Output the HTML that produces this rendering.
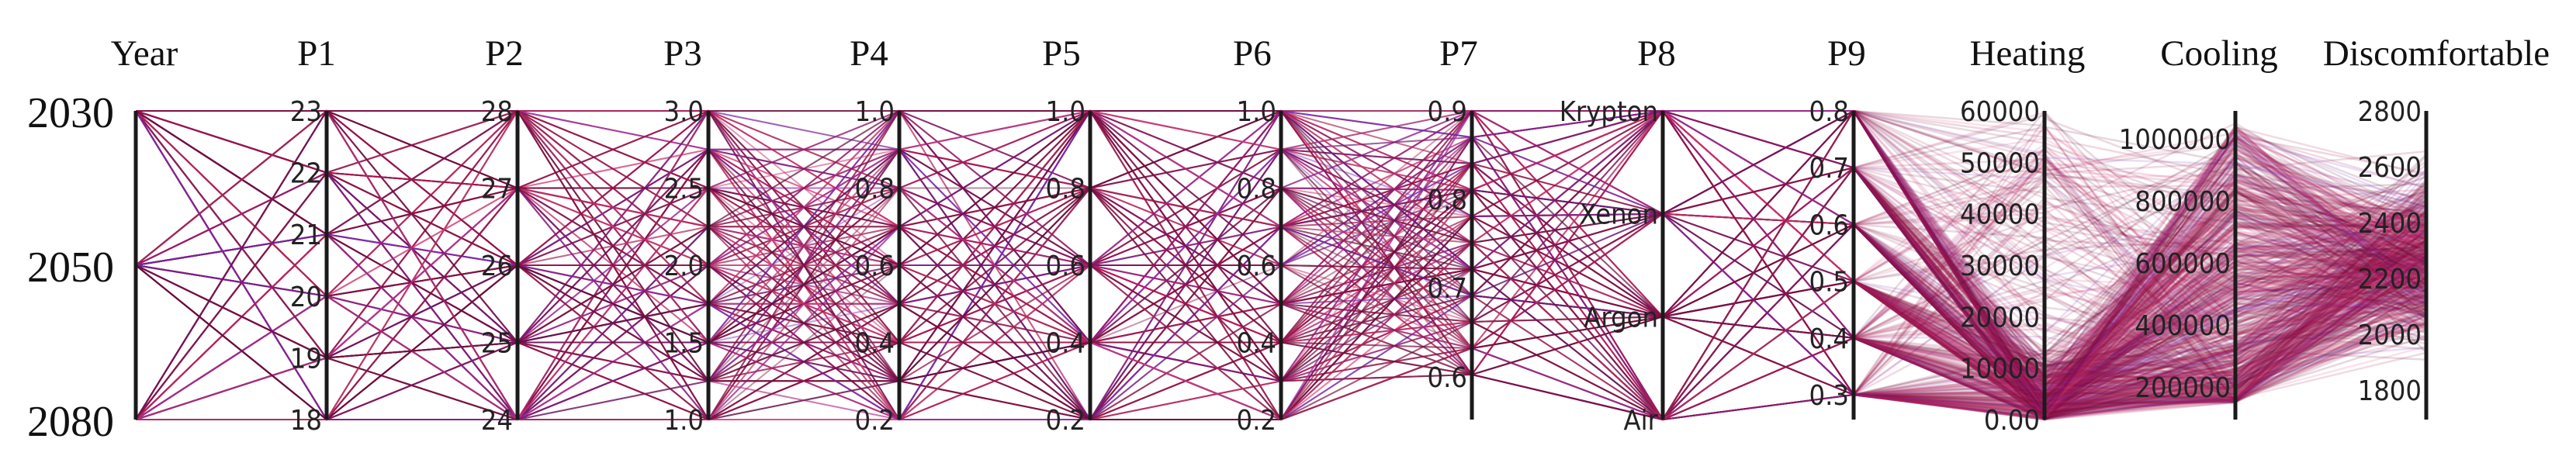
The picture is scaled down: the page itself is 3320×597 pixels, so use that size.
<!DOCTYPE html>
<html><head><meta charset="utf-8"><style>
html,body{margin:0;padding:0;background:#fff;}
svg{display:block;}
.t{font-family:"Liberation Serif",serif;font-size:47px;fill:#111;text-anchor:middle;}
.y{font-family:"Liberation Serif",serif;font-size:56px;fill:#111;text-anchor:end;}
.k{font-family:"DejaVu Sans Condensed","DejaVu Sans","Liberation Sans",sans-serif;font-size:36px;fill:#222;text-anchor:end;}
</style></head><body>
<svg id="s" width="3320" height="597" viewBox="0 0 3320 597" xmlns="http://www.w3.org/2000/svg">
<g id="lines"></g>
<g id="axes"></g>
</svg>
<script>
var X=[175,421,667,913,1159,1405,1651,1897,2143,2389,2635,2881,3127];
var T=143,B=541;
function lin(a,b,n){var r=[];for(var i=0;i<n;i++)r.push(a+(b-a)*i/(n-1));return r;}
var P=[
 lin(T,B,3), lin(T,B,6), lin(T,B,5), lin(T,B,9), lin(T,B,9), lin(T,B,5), lin(T,B,9),
 lin(143,483,11), lin(T,B,4), lin(143,509,6)
];
var seed=7;function rnd(){seed=(seed*16807)%2147483647;return (seed-1)/2147483646;}
var cols=["#5e0c33","#7a1040","#8c1245","#a8164f","#c2185b","#e0457b","#7b2cbf","#6d0f3c"];
var h="";
var N=300;
var p9s=[];
for(var n=0;n<N;n++){
 var pts=[];
 for(var a=0;a<10;a++){var arr=P[a];pts.push([X[a],arr[Math.floor(rnd()*arr.length)]]);}
 p9s.push(pts[9][1]);
 var c=cols[Math.floor(rnd()*cols.length)];
 var s1="";
 for(var i=0;i<10;i++)s1+=(i?" ":"")+pts[i][0]+","+pts[i][1].toFixed(1);
 h+='<polyline points="'+s1+'" fill="none" stroke="'+c+'" stroke-width="2" stroke-opacity="0.45"/>';
}
var M=700;
for(var n=0;n<M;n++){
 var py=P[9][Math.floor(rnd()*6)];
 var r=rnd();var heat=r<0.78?rnd()*rnd()*14000:rnd()*60000;
 var hy=B-(heat/60000)*(B-T);
 var cool=150000+Math.pow(rnd(),1.6)*900000;
 var cy=179+(1000000-cool)/800000*320;
 var dis=1850+(rnd()+rnd()+rnd())/3*850;
 var dy=143+(2800-dis)/1000*360;
 var c=cols[Math.floor(rnd()*cols.length)];
 var s2=X[9]+","+py.toFixed(1)+" "+X[10]+","+hy.toFixed(1)+" "+X[11]+","+cy.toFixed(1)+" "+X[12]+","+dy.toFixed(1);
 h+='<polyline points="'+s2+'" fill="none" stroke="'+c+'" stroke-width="2.5" stroke-opacity="0.16"/>';
}
document.getElementById("lines").innerHTML=h;
var ax="";
var titles=["Year","P1","P2","P3","P4","P5","P6","P7","P8","P9","Heating","Cooling","Discomfortable"];
var tx=[186,408,650,880,1120,1368,1614,1880,2135,2380,2613,2860,3140];
for(var i=0;i<13;i++){
 ax+='<line x1="'+X[i]+'" y1="'+T+'" x2="'+X[i]+'" y2="'+B+'" stroke="#1a1a1a" stroke-width="5"/>';
 ax+='<text class="t" x="'+tx[i]+'" y="84">'+titles[i]+'</text>';
}
function ticks(i,labels,ys,cls){for(var j=0;j<labels.length;j++){ax+='<text class="'+(cls||"k")+'" x="'+(X[i]-(cls?28:6))+'" y="'+(ys[j]+13)+'">'+labels[j]+'</text>';}}
ticks(0,["2030","2050","2080"],[T+8,342+8,B+8],"y");
ticks(1,["23","22","21","20","19","18"],lin(T,B,6));
ticks(2,["28","27","26","25","24"],lin(T,B,5));
ticks(3,["3.0","2.5","2.0","1.5","1.0"],lin(T,B,5));
ticks(4,["1.0","0.8","0.6","0.4","0.2"],lin(T,B,5));
ticks(5,["1.0","0.8","0.6","0.4","0.2"],lin(T,B,5));
ticks(6,["1.0","0.8","0.6","0.4","0.2"],lin(T,B,5));
ticks(7,["0.9","0.8","0.7","0.6"],[143,257,371,486]);
ticks(8,["Krypton","Xenon","Argon","Air"],lin(T,B,4));
ticks(9,["0.8","0.7","0.6","0.5","0.4","0.3"],lin(143,509,6));
ticks(10,["60000","50000","40000","30000","20000","10000","0.00"],lin(T,B,7));
ticks(11,["1000000","800000","600000","400000","200000"],[179,259,339,419,499]);
ticks(12,["2800","2600","2400","2200","2000","1800"],lin(143,503,6));
document.getElementById("axes").innerHTML=ax;
</script>
</body></html>
